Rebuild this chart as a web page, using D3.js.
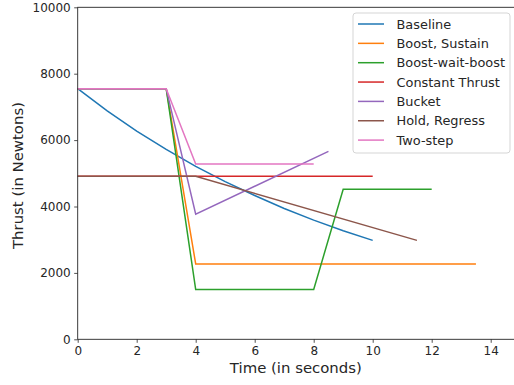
<!DOCTYPE html>
<html>
<head>
<meta charset="utf-8">
<script src="https://cdn.jsdelivr.net/npm/d3@7"></script>
<style>
  body { margin: 0; background: #fff; }
  svg { display: block; font-family: "DejaVu Sans", sans-serif; }
</style>
</head>
<body>
<div id="chart"></div>
<script>
// thrust profiles
const seriesNames = ["Baseline", "Boost, Sustain", "Boost-wait-boost", "Constant Thrust", "Bucket", "Hold, Regress", "Two-step"];
const baselineT = [0, 1, 2, 3, 4, 5, 6, 7, 8, 9, 10];
const baselineY = [7550, 6880, 6270, 5720, 5210, 4750, 4330, 3940, 3590, 3270, 2980];
const boostSustainT = [0, 3, 4, 13.5];
const boostSustainY = [7550, 7550, 2270, 2270];
const boostWaitT = [0, 3, 4, 8, 9, 12];
const boostWaitY = [7550, 7550, 1500, 1500, 4520, 4520];
const constantT = [0, 10];
const constantY = [4910, 4910];
const bucketT = [0, 3, 4, 8.5];
const bucketY = [7550, 7550, 3770, 5660];
const holdT = [0, 4, 11.5];
const holdY = [4910, 4910, 2980];
const twoStepT = [0, 3, 4, 8];
const twoStepY = [7550, 7550, 5280, 5280];

const xTicks = [0, 2, 4, 6, 8, 10, 12, 14];
const yTicks = [0, 2000, 4000, 6000, 8000, 10000];
const colors = ["#1f77b4", "#ff7f0e", "#2ca02c", "#d62728", "#9467bd", "#8c564b", "#e377c2"];

const series = [
  [baselineT, baselineY], [boostSustainT, boostSustainY], [boostWaitT, boostWaitY],
  [constantT, constantY], [bucketT, bucketY], [holdT, holdY], [twoStepT, twoStepY]
].map(([t, y], i) => ({ name: seriesNames[i], color: colors[i], pts: t.map((d, j) => [d, y[j]]) }));

const W = 514, H = 385;
const margin = {top: 7.3, right: 0, bottom: 45.7, left: 77.7};
const width = W - margin.left - margin.right;
const height = H - margin.top - margin.bottom;

const svg = d3.select("#chart").append("svg")
  .attr("width", W)
  .attr("height", H);

const g = svg.append("g").attr("transform", `translate(${margin.left},${margin.top})`);

const x = d3.scaleLinear().domain([0, 14.79]).range([0, width]);
const y = d3.scaleLinear().domain([0, 10000]).range([height, 0]);

const line = d3.line().x(d => x(d[0])).y(d => y(d[1]));

g.selectAll("path.series")
  .data(series)
  .enter()
  .append("path")
  .attr("class", "series")
  .attr("d", d => line(d.pts))
  .attr("fill", "none")
  .attr("stroke", d => d.color)
  .attr("stroke-width", 1.5);

// axes
const xAxis = g.append("g")
  .attr("transform", `translate(0,${height})`)
  .call(d3.axisBottom(x).tickValues(xTicks).tickSize(3.5).tickPadding(3.5).tickFormat(d3.format("d")));
const yAxis = g.append("g")
  .call(d3.axisLeft(y).tickValues(yTicks).tickSize(3.5).tickPadding(3.5).tickFormat(d3.format("d")));

[xAxis, yAxis].forEach(a => {
  a.select(".domain").remove();
  a.selectAll("text").attr("font-size", 12).attr("fill", "#262626").attr("font-family", "DejaVu Sans");
  a.selectAll("line").attr("stroke", "#262626").attr("stroke-width", 0.8);
});

// spines
g.append("rect")
  .attr("width", width + 2)
  .attr("height", height)
  .attr("fill", "none")
  .attr("stroke", "#262626")
  .attr("stroke-width", 0.9);

svg.append("text")
  .attr("x", margin.left + width / 2)
  .attr("y", 373)
  .attr("text-anchor", "middle")
  .attr("font-size", 14.9)
  .attr("fill", "#262626")
  .text("Time (in seconds)");

svg.append("text")
  .attr("transform", `translate(22.5,175.5) rotate(-90)`)
  .attr("text-anchor", "middle")
  .attr("font-size", 14.9)
  .attr("fill", "#262626")
  .text("Thrust (in Newtons)");

// legend
const legend = svg.append("g").attr("transform", "translate(353,13)");
legend.append("rect")
  .attr("width", 157)
  .attr("height", 140)
  .attr("rx", 3)
  .attr("fill", "#fff")
  .attr("fill-opacity", 0.8)
  .attr("stroke", "#d0d0d0")
  .attr("stroke-width", 0.9);

const items = legend.selectAll("g.item")
  .data(series)
  .enter()
  .append("g")
  .attr("class", "item")
  .attr("transform", (d, i) => `translate(0,${11 + i * 19.35})`);

items.append("line")
  .attr("x1", 5).attr("x2", 31)
  .attr("stroke", d => d.color)
  .attr("stroke-width", 1.5);

items.append("text")
  .attr("x", 43.5)
  .attr("dy", "0.35em")
  .attr("font-size", 12.9)
  .attr("fill", "#262626")
  .text(d => d.name);
</script>
</body>
</html>
